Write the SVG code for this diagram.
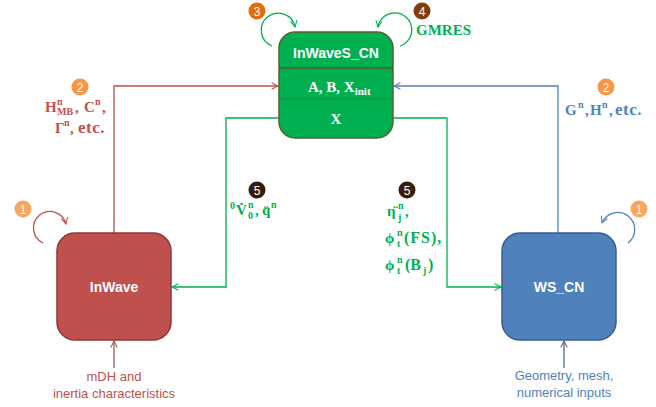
<svg xmlns="http://www.w3.org/2000/svg" width="656" height="407" viewBox="0 0 656 407">
<defs>
<marker id="aR" viewBox="0 0 10 10" refX="9" refY="5" markerWidth="8" markerHeight="8" markerUnits="userSpaceOnUse" orient="auto"><path d="M1,1 L9,5 L1,9" fill="none" stroke="#C0504D" stroke-width="1.3"/></marker>
<marker id="aB" viewBox="0 0 10 10" refX="9" refY="5" markerWidth="8" markerHeight="8" markerUnits="userSpaceOnUse" orient="auto"><path d="M1,1 L9,5 L1,9" fill="none" stroke="#4F81BD" stroke-width="1.3"/></marker>
<marker id="aG" viewBox="0 0 10 10" refX="9" refY="5" markerWidth="8" markerHeight="8" markerUnits="userSpaceOnUse" orient="auto"><path d="M1,1 L9,5 L1,9" fill="none" stroke="#00B050" stroke-width="1.3"/></marker>
<marker id="aRm" viewBox="0 0 10 10" refX="9" refY="5" markerWidth="8" markerHeight="8" markerUnits="userSpaceOnUse" orient="auto"><path d="M1,1 L9,5 L1,9" fill="none" stroke="#9E5A5A" stroke-width="1.3"/></marker>
<marker id="aBm" viewBox="0 0 10 10" refX="9" refY="5" markerWidth="8" markerHeight="8" markerUnits="userSpaceOnUse" orient="auto"><path d="M1,1 L9,5 L1,9" fill="none" stroke="#4A6A8C" stroke-width="1.3"/></marker>
</defs>
<style>
.box{stroke-width:1.5}
.bt{font-family:"Liberation Sans",Arial,sans-serif;font-weight:bold;font-size:14px;fill:#fff;text-anchor:middle}
.mt{font-family:"Liberation Serif","Times New Roman",serif;font-weight:bold;font-size:15px}
.s{font-size:10px}
.etc{font-size:17px;letter-spacing:0.5px}
.num{font-family:"Liberation Sans",Arial,sans-serif;font-size:12px;fill:#fff;text-anchor:middle}
.cap{font-family:"Liberation Sans",Arial,sans-serif;font-size:13px;text-anchor:middle}
.ln{fill:none;stroke-width:1.3}
</style>
<rect width="656" height="407" fill="#fff"/>

<g id="connectors">
  <polyline class="ln" points="114,233 114,86 278,86" stroke="#C0504D" marker-end="url(#aR)"/>
  <polyline class="ln" points="558,233 558,86 394,86" stroke="#4F81BD" marker-end="url(#aB)"/>
  <polyline class="ln" points="279,118 226,118 226,287 172,287" stroke="#00B050" marker-end="url(#aG)"/>
  <polyline class="ln" points="393,118 447,118 447,287 501,287" stroke="#00B050" marker-end="url(#aG)"/>
  <line class="ln" x1="114" y1="368" x2="114" y2="341" stroke="#9E5A5A" marker-end="url(#aRm)"/>
  <line class="ln" x1="564" y1="368" x2="564" y2="341" stroke="#4A6A8C" marker-end="url(#aBm)"/>
  <path class="ln" d="M272,46 A17,17 0 1 1 295,27" stroke="#00B050" marker-end="url(#aG)"/>
  <path class="ln" d="M400,46 A17,17 0 1 0 378,27" stroke="#00B050" marker-end="url(#aG)"/>
  <path class="ln" d="M43,243 A16.5,16.5 0 1 1 66,224" stroke="#C0504D" marker-end="url(#aR)"/>
  <path class="ln" d="M628,243 A17,17 0 1 0 602,223" stroke="#4F81BD" marker-end="url(#aB)"/>
</g>

<g id="InWaveS_CN">
  <rect class="box" x="279" y="32" width="114" height="106" rx="16" fill="#00B050" stroke="#5A5F2E"/>
  <line x1="279" y1="68" x2="393" y2="68" stroke="#4F5F2A" stroke-width="1.5"/>
  <line x1="280" y1="99" x2="392" y2="99" stroke="#4F5F2A" stroke-width="1.2" stroke-dasharray="1.5,1.5"/>
  <text class="bt" x="336" y="58">InWaveS_CN</text>
  <text class="mt" x="308" y="92" fill="#fff">A, B, X<tspan font-size="11" dy="3">init</tspan></text>
  <text class="mt" x="336" y="124" fill="#fff" text-anchor="middle">X</text>
</g>

<g id="InWave">
  <rect class="box" x="57" y="233" width="114" height="107" rx="18" fill="#C0504D" stroke="#8C3836"/>
  <text class="bt" x="114" y="292">InWave</text>
</g>

<g id="WS_CN">
  <rect class="box" x="502" y="233" width="114" height="107" rx="18" fill="#4F81BD" stroke="#385D8A"/>
  <text class="bt" x="559" y="292">WS_CN</text>
</g>

<g id="badges">
  <circle cx="257" cy="11" r="8.5" fill="#E46C0A"/><text class="num" x="257" y="15.5">3</text>
  <circle cx="422" cy="11" r="8.5" fill="#843C0C"/><text class="num" x="422" y="15.5">4</text>
  <circle cx="80" cy="87" r="8.5" fill="#F79646"/><text class="num" x="80" y="91.5">2</text>
  <circle cx="606" cy="87" r="8.5" fill="#F79646"/><text class="num" x="606" y="91.5">2</text>
  <circle cx="23" cy="209" r="8.5" fill="#F9A65E"/><text class="num" x="23" y="213.5">1</text>
  <circle cx="639" cy="209" r="8.5" fill="#F9A65E"/><text class="num" x="639" y="213.5">1</text>
  <circle cx="257" cy="190" r="8.5" fill="#3A1D08"/><text class="num" x="257" y="194.5">5</text>
  <circle cx="407" cy="190" r="8.5" fill="#3A1D08"/><text class="num" x="407" y="194.5">5</text>
</g>

<g id="labels">
  <text class="mt" x="416" y="35" fill="#00B050">GMRES</text>

  <text class="mt" fill="#C0504D"><tspan x="45" y="112">H</tspan><tspan class="s" x="57" y="105">n</tspan><tspan class="s" x="57" y="115">MB</tspan><tspan x="75" y="112">,</tspan><tspan x="84" y="112">C</tspan><tspan class="s" x="95" y="105">n</tspan><tspan x="102" y="112">,</tspan></text>
  <text class="mt" fill="#C0504D"><tspan x="55" y="133">Γ</tspan><tspan class="s" x="64" y="126">n</tspan><tspan x="70" y="133">,</tspan><tspan class="etc" x="78" y="133">etc.</tspan></text>

  <text class="mt" fill="#4F81BD"><tspan x="565" y="115">G</tspan><tspan class="s" x="578" y="108">n</tspan><tspan x="585" y="115">,</tspan><tspan x="590" y="115">H</tspan><tspan class="s" x="602" y="108">n</tspan><tspan x="609" y="115">,</tspan><tspan class="etc" x="615" y="115">etc.</tspan></text>

  <text class="mt" fill="#00B050"><tspan class="s" x="230" y="209">0</tspan><tspan x="236" y="215">V̇</tspan><tspan class="s" x="248" y="208">n</tspan><tspan class="s" x="248" y="219">0</tspan><tspan x="255" y="215">,</tspan><tspan x="262" y="215">q̈</tspan><tspan class="s" x="271" y="208">n</tspan></text>

  <text class="mt" fill="#00B050"><tspan x="387" y="216">η̈</tspan><tspan class="s" x="398" y="209">n</tspan><tspan class="s" x="398" y="221">j</tspan><tspan x="405" y="216">,</tspan></text>
  <text class="mt" fill="#00B050"><tspan x="385" y="243">ϕ</tspan><tspan class="s" x="397" y="236">n</tspan><tspan class="s" x="397" y="247">t</tspan><tspan x="404" y="243" font-size="16" letter-spacing="1">(FS),</tspan></text>
  <text class="mt" fill="#00B050"><tspan x="385" y="270">ϕ</tspan><tspan class="s" x="397" y="263">n</tspan><tspan class="s" x="397" y="274">t</tspan><tspan x="405" y="270" font-size="16">(B</tspan><tspan class="s" x="423" y="274">j</tspan><tspan x="428" y="270" font-size="16">)</tspan></text>

  <text class="cap" x="114" y="381" fill="#C0504D">mDH and</text>
  <text class="cap" x="114" y="398" fill="#C0504D">inertia characteristics</text>
  <text class="cap" x="564" y="380" fill="#4F81BD">Geometry, mesh,</text>
  <text class="cap" x="564" y="397" fill="#4F81BD">numerical inputs</text>
</g>
</svg>
